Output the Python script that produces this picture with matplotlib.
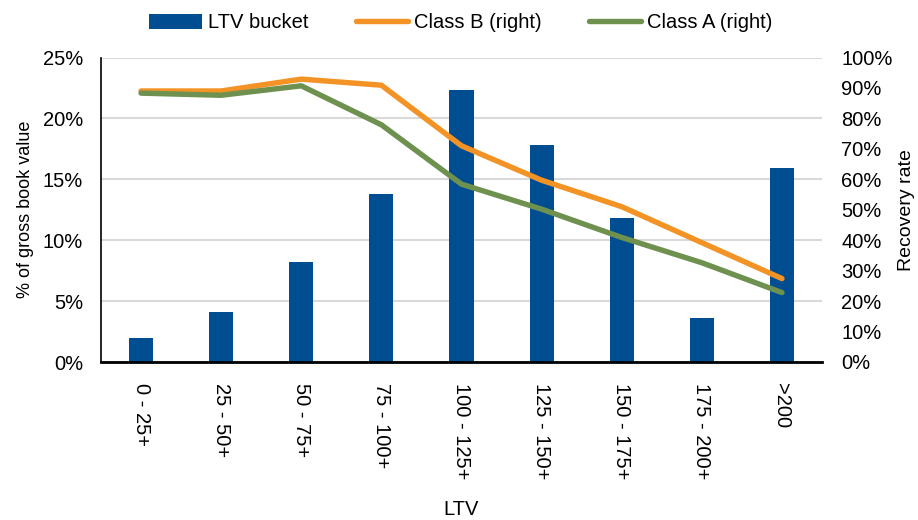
import matplotlib
matplotlib.use("Agg")
import matplotlib.pyplot as plt
from matplotlib.ticker import PercentFormatter, MultipleLocator

plt.rcParams['font.family'] = ['Liberation Sans', 'DejaVu Sans']

categories = ["0 - 25+", "25 - 50+", "50 - 75+", "75 - 100+", "100 - 125+",
              "125 - 150+", "150 - 175+", "175 - 200+", ">200"]
ltv_bucket = [2.0, 4.1, 8.2, 13.8, 22.3, 17.85, 11.8, 3.65, 15.9]
class_b = [89.0, 89.0, 92.9, 90.9, 71.0, 59.7, 51.0, 39.2, 27.4]
class_a = [88.3, 87.6, 90.7, 77.9, 58.4, 50.2, 40.9, 32.6, 22.8]

bar_color = "#004E91"
orange = "#F39325"
green = "#6E9150"

fig = plt.figure(figsize=(9.18, 5.2), dpi=100)
ax = fig.add_axes([101/918, 1-362/520, (822-101)/918, (362-57.5)/520])
ax2 = ax.twinx()

x = list(range(len(categories)))
b = ax.bar(x, ltv_bucket, width=0.3, color=bar_color, zorder=2, label="LTV bucket")
lb, = ax2.plot(x, class_b, color=orange, lw=3.9, solid_capstyle='round', label="Class B (right)", zorder=3)
la, = ax2.plot(x, class_a, color=green, lw=3.9, solid_capstyle='round', label="Class A (right)", zorder=3)

ax.set_xlim(-0.5, len(categories)-0.5)
ax.set_ylim(0, 25)
ax2.set_ylim(0, 100)
ax.yaxis.set_major_locator(MultipleLocator(5))
ax2.yaxis.set_major_locator(MultipleLocator(10))
ax.yaxis.set_major_formatter(PercentFormatter(decimals=0))
ax2.yaxis.set_major_formatter(PercentFormatter(decimals=0))
ax.grid(axis='y', color='#D9D9D9', lw=1.5, zorder=0)
ax.set_axisbelow(True)

ax.set_xticks(x)
ax.set_xticklabels(categories, rotation=270, fontsize=14.5)
ax.tick_params(axis='x', length=0, pad=15)
ax.tick_params(axis='y', length=0, labelsize=14.5, pad=13)
ax2.tick_params(axis='y', length=0, labelsize=14.5, pad=14)

for a in (ax, ax2):
    a.spines['top'].set_visible(False)
    a.spines['right'].set_visible(False)
ax2.spines['left'].set_visible(False)
ax2.spines['bottom'].set_visible(False)
ax.spines['left'].set_color('black')
ax.spines['left'].set_linewidth(1.2)
ax.spines['bottom'].set_color('black')
ax.spines['bottom'].set_linewidth(2)

ax.set_ylabel("% of gross book value", fontsize=13, labelpad=6)
ax2.set_ylabel("Recovery rate", fontsize=14, labelpad=4)
ax.set_xlabel("LTV", fontsize=14.5, labelpad=15)

fig.legend(handles=[b, lb, la], labels=["LTV bucket", "Class B (right)", "Class A (right)"],
           loc='center', bbox_to_anchor=(461/918, 1-23/520), ncol=3, frameon=False,
           fontsize=14.5, handlelength=2.6, columnspacing=2.35, handletextpad=0.3)

fig.savefig("out.png", dpi=100)
